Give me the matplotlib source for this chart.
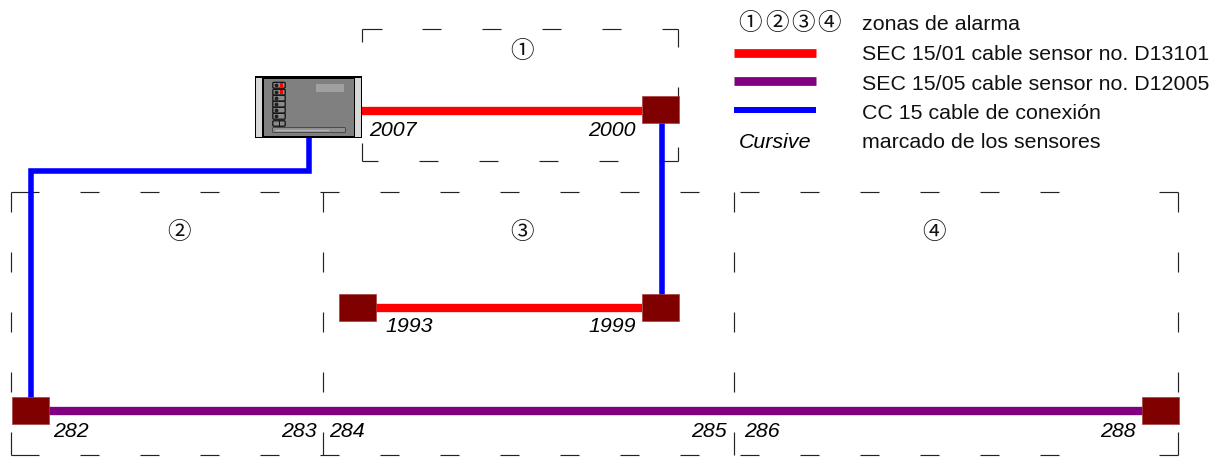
import matplotlib
matplotlib.use("Agg")
import matplotlib.pyplot as plt
from matplotlib.patches import Rectangle, FancyBboxPatch

#zonas, en pixeles de la imagen
zone_labels = ["①", "②", "③", "④"]
zone_label_x = [521.7, 179.3, 522, 934]
zone_label_y = [51, 232.5, 232.5, 232.5]
big_zone_x = [11, 323, 734, 1178]
big_zone_y = [192, 455]

#cables
red_cables = [([362, 642], [110.6, 110.6]), ([376, 642], [307.6, 307.6])]
purple_cable = ([48, 1143], [410.7, 410.7])
blue_cables = [([661.7, 661.7], [120, 296]),
               ([31, 31, 308.7, 308.7], [400, 171, 171, 136])]

#sensores
sensor_x = [660.3, 660.3, 357.7, 30.7, 1160]
sensor_y = [109.5, 307.3, 307.3, 410.5, 410.5]

#marcado
sensor_names = ["2007", "2000", "1993", "1999", "282", "283", "284", "285", "286", "288"]
sensor_name_x = [369, 636, 385.5, 635.5, 53, 317, 329, 727, 744, 1135.5]
sensor_name_y = [136, 136, 332, 332, 437, 437, 437, 437, 437, 437]
sensor_name_ha = ["left", "right", "left", "right", "left", "right", "left", "right", "left", "right"]

#leyenda
legend_texts = ["zonas de alarma", "SEC 15/01 cable sensor no. D13101",
                "SEC 15/05 cable sensor no. D12005", "CC 15 cable de conexión",
                "marcado de los sensores"]
legend_y = [30, 60, 90, 119, 148]
legend_circle_x = [750, 776.7, 802.7, 829]

RED = "#ff0000"
PURPLE = "#800080"
BLUE = "#0000ff"
SENSOR = "#800000"
LINE = "#222222"
FS = 15.36
SANS = ["Liberation Sans", "DejaVu Sans"]
CIRC = ["Noto Sans CJK JP", "DejaVu Sans"]

fig = plt.figure(figsize=(12.17, 4.57), dpi=100)
ax = fig.add_axes([0, 0, 1, 1])
ax.set_xlim(0, 1217)
ax.set_ylim(457, 0)
ax.axis("off")


def hseg(y, x0, x1):
    ax.plot([x0, x1], [y, y], color=LINE, lw=0.85, solid_capstyle="butt", zorder=1)


def vseg(x, y0, y1):
    ax.plot([x, x], [y0, y1], color=LINE, lw=0.85, solid_capstyle="butt", zorder=1)


#zonas 2, 3 y 4
for y in big_zone_y:
    hseg(y, big_zone_x[0], 39)
    for x in range(80, 1100, 60):
        hseg(y, x, x + 19)
    hseg(y, 1159, big_zone_x[-1])
for x in big_zone_x:
    for y in range(big_zone_y[0], 400, 60):
        vseg(x, y, y + 19.5)
    vseg(x, 431.5, big_zone_y[1])

#zona 1
hseg(28.5, 362, 382)
for x in range(422, 640, 60):
    hseg(28.5, x, x + 19)
hseg(28.5, 662, 678)
hseg(161, 362, 378)
for x in range(419, 640, 60):
    hseg(161, x, x + 19)
hseg(161, 659, 678)
vseg(362, 28.5, 42)
vseg(362, 143, 161)
vseg(678, 28.5, 47)
vseg(678, 87, 100)
vseg(678, 147, 161)

for txt, x, y in zip(zone_labels, zone_label_x, zone_label_y):
    ax.text(x, y, txt, family=CIRC, fontsize=17, ha="center", va="center", color="#111111")

#cables
for xs, ys in blue_cables:
    ax.plot(xs, ys, color=BLUE, lw=4, solid_joinstyle="miter", solid_capstyle="butt", zorder=2)
for xs, ys in red_cables:
    ax.plot(xs, ys, color=RED, lw=6, solid_capstyle="butt", zorder=2)
ax.plot(*purple_cable, color=PURPLE, lw=6, solid_capstyle="butt", zorder=2)

for x, y in zip(sensor_x, sensor_y):
    ax.add_patch(Rectangle((x - 18.5, y - 13.5), 37, 27, fc=SENSOR, ec="#a84040", lw=0.5, zorder=3))

#central
ax.add_patch(Rectangle((254.7, 76.3), 107.5, 62, fc="#000000", ec="none", zorder=3))
ax.add_patch(Rectangle((264, 79), 89.5, 57, fc="#808080", ec="none", zorder=3))
ax.add_patch(Rectangle((256, 78), 5.8, 59, fc="#d8d8d8", ec="none", zorder=3))
ax.add_patch(Rectangle((355, 78), 6, 59, fc="#d8d8d8", ec="none", zorder=3))
ax.add_patch(Rectangle((316, 84), 28, 7.7, fc="#a0a0a0", ec="none", zorder=4))
for yy in [83.5, 90.5, 96.5, 102.5, 108.5, 114.5]:
    ax.add_patch(FancyBboxPatch((274, yy), 10, 3.5, boxstyle="round,pad=1.2", fc="#8a8a8a",
                                ec="#101010", lw=0.9, zorder=4))
    ax.plot([275.5], [yy + 1.7], "o", ms=1.8, color="#202020", zorder=5)
for yy in (85.2, 92.2):
    ax.add_patch(Rectangle((280, yy - 2), 3.3, 4, fc=RED, ec="none", zorder=5))
ax.add_patch(FancyBboxPatch((274, 122), 10, 3, boxstyle="round,pad=1.2", fc="#8a8a8a",
                            ec="#101010", lw=0.9, zorder=4))
ax.plot([278.5, 278.5], [121, 126], color="#101010", lw=0.7, zorder=5)
ax.add_patch(FancyBboxPatch((273.5, 128.5), 71, 3, boxstyle="round,pad=1", fc="#8f8f8f",
                            ec="#404040", lw=0.6, zorder=4))
ax.plot([276, 328], [130, 130], color="#b4b4b4", lw=1.0, zorder=5)

#marcado
for name, x, y, ha in zip(sensor_names, sensor_name_x, sensor_name_y, sensor_name_ha):
    ax.text(x, y, name, family=SANS, style="italic", fontsize=FS, ha=ha, va="baseline", color="black")

#leyenda
for txt, x in zip(zone_labels, legend_circle_x):
    ax.text(x, 24, txt, family=CIRC, fontsize=17, ha="center", va="center", color="#111111")
ax.plot([734, 816], [52.7, 52.7], color=RED, lw=6.3, solid_capstyle="butt")
ax.plot([734, 816], [81.3, 81.3], color=PURPLE, lw=6.3, solid_capstyle="butt")
ax.plot([734, 816], [110, 110], color=BLUE, lw=4.3, solid_capstyle="butt")
ax.text(739, 148, "Cursive", family=SANS, style="italic", fontsize=FS, ha="left", va="baseline")
for txt, y in zip(legend_texts, legend_y):
    ax.text(862, y, txt, family=SANS, fontsize=FS, ha="left", va="baseline", color="#111111")

fig.savefig("out.png", dpi=100)
